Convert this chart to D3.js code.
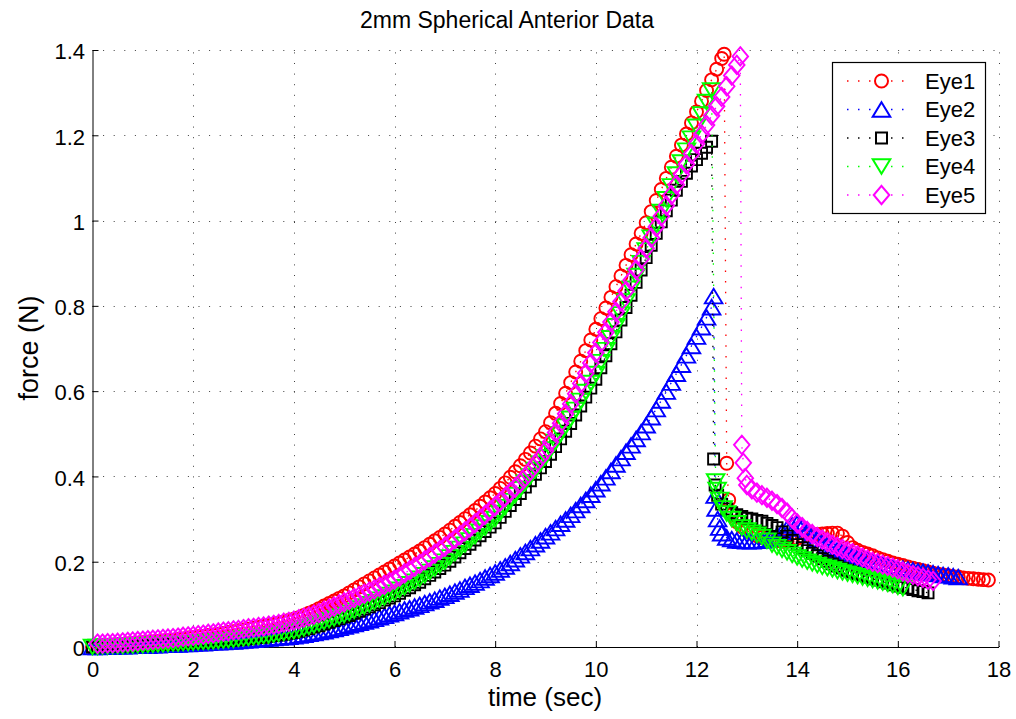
<!DOCTYPE html>
<html>
<head>
<meta charset="utf-8">
<script src="https://cdn.jsdelivr.net/npm/d3@7"></script>
<style>
  html, body { margin: 0; padding: 0; background: #fff; }
  svg { display: block; font-family: "Liberation Sans", Arial, Helvetica, sans-serif; }
</style>
</head>
<body>
<svg id="chart" width="1016" height="719"></svg>
<script>
// ---------------- DATA ----------------
const chartTitle = "2mm Spherical Anterior Data";
const xLabel = "time (sec)";
const yLabel = "force (N)";
const xTicks = [0, 2, 4, 6, 8, 10, 12, 14, 16, 18];
const yTicks = [0, 0.2, 0.4, 0.6, 0.8, 1, 1.2, 1.4];
const seriesNames = ["Eye1", "Eye2", "Eye3", "Eye4", "Eye5"];
const sampleStep = 0.1; // seconds between listed samples

// Eye1 (red circles)
const eye1RiseStart = 0;
const eye1Rise = [0.000,0.001,0.002,0.003,0.004,0.005,0.006,0.007,0.008,0.009,
  0.010,0.011,0.012,0.013,0.014,0.015,0.016,0.018,0.019,0.021,
  0.022,0.024,0.025,0.027,0.028,0.030,0.032,0.034,0.036,0.038,
  0.040,0.042,0.044,0.046,0.048,0.050,0.053,0.056,0.059,0.062,
  0.065,0.069,0.074,0.079,0.084,0.090,0.096,0.102,0.108,0.114,
  0.120,0.127,0.134,0.141,0.148,0.155,0.162,0.169,0.176,0.183,
  0.190,0.197,0.204,0.211,0.218,0.225,0.233,0.241,0.249,0.257,
  0.265,0.274,0.283,0.292,0.301,0.310,0.320,0.330,0.340,0.350,
  0.360,0.372,0.385,0.398,0.411,0.425,0.440,0.455,0.471,0.488,
  0.505,0.526,0.548,0.571,0.595,0.620,0.645,0.670,0.695,0.720,
  0.745,0.770,0.795,0.820,0.845,0.870,0.895,0.920,0.945,0.970,
  0.995,1.021,1.047,1.073,1.099,1.125,1.151,1.177,1.203,1.229,
  1.255,1.280,1.305,1.330,1.355,1.380];
const eye1Drop = [[12.55, 1.390], [12.60, 0.431], [12.64, 0.345]];
const eye1DecayStart = 12.7;
const eye1Decay = [0.310,0.294,0.282,0.273,0.266,0.261,0.257,0.253,0.250,0.249,
  0.248,0.248,0.251,0.255,0.259,0.262,0.263,0.264,0.265,0.266,
  0.267,0.267,0.260,0.245,0.233,0.227,0.222,0.218,0.214,0.209,
  0.205,0.201,0.197,0.194,0.191,0.188,0.185,0.182,0.179,0.176,
  0.173,0.171,0.169,0.167,0.165,0.164,0.162,0.161,0.160,0.159,
  0.158,0.157];

// Eye2 (blue up-triangles)
const eye2RiseStart = 0;
const eye2Rise = [0.000,0.000,0.001,0.001,0.001,0.002,0.002,0.002,0.003,0.003,
  0.003,0.003,0.004,0.004,0.005,0.005,0.006,0.006,0.007,0.007,
  0.008,0.009,0.009,0.010,0.011,0.011,0.012,0.013,0.013,0.014,
  0.015,0.016,0.017,0.018,0.019,0.020,0.021,0.022,0.023,0.024,
  0.025,0.027,0.029,0.031,0.033,0.035,0.037,0.040,0.042,0.045,
  0.048,0.051,0.054,0.057,0.060,0.063,0.066,0.070,0.073,0.077,
  0.080,0.084,0.088,0.091,0.095,0.099,0.103,0.107,0.111,0.116,
  0.120,0.125,0.130,0.135,0.141,0.146,0.151,0.157,0.163,0.169,
  0.175,0.182,0.189,0.197,0.206,0.215,0.223,0.232,0.241,0.250,
  0.260,0.269,0.279,0.289,0.299,0.310,0.321,0.333,0.345,0.357,
  0.370,0.384,0.398,0.413,0.428,0.443,0.458,0.473,0.488,0.504,
  0.520,0.539,0.558,0.578,0.599,0.620,0.641,0.662,0.684,0.706,
  0.728,0.750,0.773,0.797];
const eye2Drop = [[12.34, 0.823], [12.37, 0.355], [12.39, 0.325], [12.42, 0.300], [12.46, 0.280], [12.50, 0.267]];
const eye2DecayStart = 12.6;
const eye2Decay = [0.257,0.253,0.250,0.249,0.248,0.248,0.249,0.250,0.252,0.255,
  0.262,0.270,0.278,0.285,0.290,0.281,0.271,0.262,0.253,0.245,
  0.239,0.233,0.228,0.224,0.219,0.214,0.210,0.206,0.203,0.200,
  0.197,0.194,0.191,0.189,0.186,0.184,0.182,0.180,0.178,0.177,
  0.175,0.173,0.171,0.169,0.168,0.166,0.164];

// Eye3 (black squares)
const eye3RiseStart = 0;
const eye3Rise = [0.000,0.000,0.001,0.001,0.001,0.002,0.002,0.002,0.003,0.003,
  0.004,0.004,0.005,0.005,0.006,0.006,0.007,0.007,0.008,0.008,
  0.009,0.010,0.010,0.011,0.012,0.013,0.014,0.015,0.016,0.017,
  0.018,0.019,0.021,0.022,0.023,0.025,0.027,0.028,0.030,0.032,
  0.034,0.037,0.040,0.043,0.047,0.050,0.054,0.058,0.062,0.066,
  0.070,0.074,0.079,0.084,0.089,0.094,0.099,0.104,0.110,0.115,
  0.120,0.126,0.133,0.139,0.146,0.152,0.160,0.168,0.176,0.184,
  0.192,0.201,0.211,0.221,0.231,0.241,0.251,0.261,0.271,0.281,
  0.291,0.304,0.318,0.332,0.346,0.360,0.375,0.390,0.405,0.420,
  0.435,0.452,0.470,0.488,0.506,0.524,0.544,0.565,0.586,0.607,
  0.628,0.655,0.683,0.711,0.739,0.767,0.796,0.825,0.855,0.884,
  0.913,0.942,0.970,0.997,1.023,1.048,1.071,1.092,1.111,1.128,
  1.143,1.158,1.172,1.186];
const eye3Drop = [[12.34, 0.441], [12.37, 0.380], [12.42, 0.356], [12.50, 0.335]];
const eye3DecayStart = 12.6;
const eye3Decay = [0.324,0.315,0.310,0.306,0.302,0.300,0.297,0.295,0.290,0.285,
  0.280,0.270,0.260,0.250,0.240,0.233,0.226,0.220,0.214,0.207,
  0.201,0.195,0.190,0.185,0.180,0.176,0.172,0.168,0.164,0.160,
  0.157,0.153,0.150,0.146,0.143,0.140,0.138,0.135,0.132,0.130,
  0.127];

// Eye4 (green down-triangles)
const eye4RiseStart = 0;
const eye4Rise = [0.000,0.000,0.001,0.001,0.002,0.002,0.002,0.003,0.003,0.004,
  0.004,0.005,0.005,0.006,0.006,0.007,0.008,0.008,0.009,0.009,
  0.010,0.011,0.012,0.012,0.013,0.014,0.015,0.016,0.017,0.019,
  0.020,0.021,0.023,0.024,0.026,0.027,0.029,0.031,0.033,0.035,
  0.037,0.040,0.044,0.047,0.051,0.055,0.059,0.063,0.067,0.071,
  0.075,0.080,0.085,0.090,0.095,0.100,0.105,0.111,0.116,0.122,
  0.127,0.134,0.140,0.147,0.153,0.160,0.168,0.176,0.184,0.192,
  0.200,0.210,0.220,0.230,0.240,0.250,0.260,0.270,0.280,0.290,
  0.300,0.314,0.328,0.342,0.356,0.370,0.385,0.400,0.415,0.430,
  0.445,0.463,0.481,0.499,0.517,0.535,0.556,0.577,0.598,0.619,
  0.640,0.668,0.696,0.724,0.752,0.780,0.810,0.840,0.870,0.900,
  0.930,0.960,0.990,1.020,1.050,1.080,1.108,1.136,1.164,1.192,
  1.220,1.249,1.278];
const eye4Drop = [[12.30, 1.305], [12.38, 0.388], [12.41, 0.368], [12.46, 0.345], [12.53, 0.325]];
const eye4DecayStart = 12.6;
const eye4Decay = [0.313,0.300,0.290,0.280,0.273,0.268,0.263,0.258,0.249,0.240,
  0.234,0.228,0.222,0.216,0.210,0.205,0.200,0.196,0.192,0.188,
  0.185,0.182,0.178,0.175,0.172,0.169,0.166,0.163,0.160,0.157,
  0.154,0.151,0.148,0.145,0.141,0.138];

// Eye5 (magenta diamonds)
const eye5RiseStart = 0.1;
const eye5Rise = [0.008,0.008,0.009,0.009,0.010,0.011,0.012,0.013,0.014,0.015,
  0.016,0.017,0.018,0.019,0.020,0.021,0.022,0.024,0.025,0.026,
  0.028,0.029,0.031,0.032,0.034,0.036,0.037,0.039,0.040,0.042,
  0.044,0.045,0.047,0.048,0.050,0.052,0.054,0.057,0.059,0.062,
  0.065,0.069,0.072,0.076,0.080,0.085,0.090,0.095,0.100,0.105,
  0.110,0.115,0.120,0.125,0.130,0.135,0.141,0.146,0.152,0.158,
  0.165,0.173,0.180,0.188,0.195,0.203,0.211,0.219,0.227,0.235,
  0.244,0.253,0.262,0.271,0.280,0.290,0.300,0.310,0.320,0.330,
  0.341,0.352,0.363,0.374,0.385,0.399,0.414,0.429,0.444,0.460,
  0.481,0.503,0.525,0.547,0.570,0.594,0.618,0.642,0.666,0.690,
  0.714,0.738,0.762,0.786,0.810,0.835,0.860,0.885,0.910,0.935,
  0.960,0.985,1.010,1.035,1.060,1.084,1.108,1.132,1.156,1.180,
  1.202,1.224,1.246,1.268,1.290,1.315,1.340,1.365];
const eye5Drop = [[12.87, 1.385], [12.90, 0.474], [12.93, 0.432], [12.97, 0.396]];
const eye5DecayStart = 13.0;
const eye5Decay = [0.380,0.370,0.362,0.356,0.350,0.343,0.335,0.326,0.315,0.302,
  0.290,0.281,0.272,0.265,0.258,0.252,0.246,0.240,0.235,0.230,
  0.225,0.220,0.215,0.210,0.205,0.200,0.197,0.193,0.190,0.186,
  0.182,0.177,0.173,0.169,0.166,0.162,0.158,0.155];

// ---------------- BUILD SERIES ----------------
function assemble(riseStart, rise, drop, decayStart, decay) {
  const pts = rise.map((v, i) => [riseStart + i * sampleStep, v]);
  drop.forEach(p => pts.push(p));
  decay.forEach((v, i) => pts.push([decayStart + i * sampleStep, v]));
  return pts;
}
const series = [
  { name: seriesNames[0], color: "#ff0000", marker: "circle",
    pts: assemble(eye1RiseStart, eye1Rise, eye1Drop, eye1DecayStart, eye1Decay) },
  { name: seriesNames[1], color: "#0000ff", marker: "triUp",
    pts: assemble(eye2RiseStart, eye2Rise, eye2Drop, eye2DecayStart, eye2Decay) },
  { name: seriesNames[2], color: "#000000", marker: "square",
    pts: assemble(eye3RiseStart, eye3Rise, eye3Drop, eye3DecayStart, eye3Decay) },
  { name: seriesNames[3], color: "#00ff00", marker: "triDown",
    pts: assemble(eye4RiseStart, eye4Rise, eye4Drop, eye4DecayStart, eye4Decay) },
  { name: seriesNames[4], color: "#ff00ff", marker: "diamond",
    pts: assemble(eye5RiseStart, eye5Rise, eye5Drop, eye5DecayStart, eye5Decay) }
];

// ---------------- LAYOUT ----------------
const svg = d3.select("#chart");
const plotL = 92.5, plotR = 998.5, plotT = 50, plotB = 647;
const x = d3.scaleLinear().domain([0, 18]).range([plotL, plotR]);
const y = d3.scaleLinear().domain([0, 1.4]).range([plotB, plotT]);
const FONT = "22px";
const dotted = "1.5,9.2";

svg.append("rect").attr("width", 1016).attr("height", 719).attr("fill", "#fff");

// grid
const grid = svg.append("g").attr("stroke", "#000").attr("stroke-width", 1)
  .attr("stroke-dasharray", "1,9.6").attr("opacity", 0.75);
grid.selectAll("line.v").data(xTicks.filter(d => d > 0)).join("line")
  .attr("x1", d => Math.round(x(d)) + 0.5).attr("x2", d => Math.round(x(d)) + 0.5)
  .attr("y1", plotB).attr("y2", plotT);
grid.selectAll("line.h").data(yTicks.filter(d => d > 0)).join("line")
  .attr("y1", d => Math.round(y(d)) + 0.5).attr("y2", d => Math.round(y(d)) + 0.5)
  .attr("x1", plotL).attr("x2", plotR);

// axes
const fmt = d => String(+d.toFixed(1));
const xAxis = d3.axisBottom(x).tickValues(xTicks).tickFormat(fmt)
  .tickSizeInner(-6).tickSizeOuter(0).tickPadding(14);
const yAxis = d3.axisLeft(y).tickValues(yTicks).tickFormat(fmt)
  .tickSizeInner(-6).tickSizeOuter(0).tickPadding(7.5);
const gx = svg.append("g").attr("transform", `translate(0,${plotB})`).call(xAxis);
const gy = svg.append("g").attr("transform", `translate(${plotL},0)`).call(yAxis);
[gx, gy].forEach(g => {
  g.selectAll("text").attr("font-size", FONT).attr("fill", "#000")
    .attr("font-family", "Liberation Sans, Arial, sans-serif");
  g.selectAll("line").attr("stroke", "#000");
  g.select(".domain").attr("stroke", "#000");
});
gy.selectAll("text").attr("dy", "0.40em");

// marker shapes
function markerPath(type, cx, cy) {
  switch (type) {
    case "triUp": return `M${cx},${cy - 7.3}L${cx + 8.8},${cy + 7.3}L${cx - 8.8},${cy + 7.3}Z`;
    case "triDown": return `M${cx},${cy + 7.3}L${cx + 8.8},${cy - 7.3}L${cx - 8.8},${cy - 7.3}Z`;
    case "square": return `M${cx - 5.5},${cy - 5.5}h11v11h-11Z`;
    case "diamond": return `M${cx},${cy - 9.2}L${cx + 7.8},${cy}L${cx},${cy + 9.2}L${cx - 7.8},${cy}Z`;
    default: return `M${cx - 6.5},${cy}a6.5,6.5 0 1,0 13,0a6.5,6.5 0 1,0 -13,0Z`;
  }
}

const line = d3.line().x(d => x(d[0])).y(d => y(d[1]));
series.forEach(s => {
  const g = svg.append("g");
  g.append("path").datum(s.pts).attr("d", line).attr("fill", "none")
    .attr("stroke", s.color).attr("stroke-width", 1.3).attr("stroke-dasharray", dotted);
  g.selectAll("path.m").data(s.pts).join("path").attr("class", "m")
    .attr("d", d => markerPath(s.marker, x(d[0]), y(d[1])))
    .attr("fill", "none").attr("stroke", s.color).attr("stroke-width", 1.9);
});

// legend
const lg = svg.append("g");
lg.append("rect").attr("x", 832.5).attr("y", 62.5).attr("width", 153).attr("height", 151)
  .attr("fill", "#fff").attr("stroke", "#000").attr("stroke-width", 1.2);
series.forEach((s, i) => {
  const ly = 81 + i * 28.5;
  lg.append("line").attr("x1", 847).attr("x2", 913).attr("y1", ly).attr("y2", ly)
    .attr("stroke", s.color).attr("stroke-width", 1.3).attr("stroke-dasharray", "1.5,9.5");
  lg.append("path").attr("d", markerPath(s.marker, 881.5, ly))
    .attr("fill", "#fff").attr("stroke", s.color).attr("stroke-width", 2);
  lg.append("text").attr("x", 925).attr("y", ly).attr("dy", "0.36em")
    .attr("font-size", FONT).attr("fill", "#000").text(s.name);
});

// titles
svg.append("text").attr("x", 507).attr("y", 28).attr("text-anchor", "middle")
  .attr("font-size", "23px").attr("fill", "#000").text(chartTitle);
svg.append("text").attr("x", 545).attr("y", 705.5).attr("text-anchor", "middle")
  .attr("font-size", "26px").attr("fill", "#000").text(xLabel);
svg.append("text").attr("transform", "translate(38,348) rotate(-90)").attr("text-anchor", "middle")
  .attr("font-size", "27px").attr("fill", "#000").text(yLabel);
</script>
</body>
</html>
